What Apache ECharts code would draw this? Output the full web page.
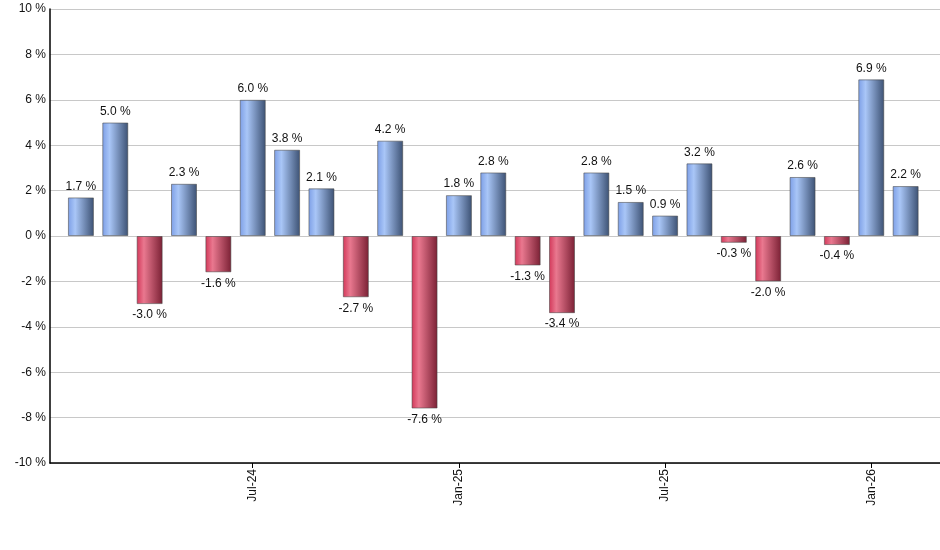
<!DOCTYPE html>
<html>
<head>
<meta charset="utf-8">
<script src="https://cdn.jsdelivr.net/npm/echarts@6/dist/echarts.min.js"></script>
<style>
  html, body { margin: 0; padding: 0; background: #fff; }
  #chart { width: 940px; height: 550px; }
</style>
</head>
<body>
<div id="chart"></div>
<script>
// ── Data ─────────────────────────────────────────────────────
const months = [
  'Feb-24', 'Mar-24', 'Apr-24', 'May-24', 'Jun-24', 'Jul-24', 'Aug-24', 'Sep-24',
  'Oct-24', 'Nov-24', 'Dec-24', 'Jan-25', 'Feb-25', 'Mar-25', 'Apr-25', 'May-25',
  'Jun-25', 'Jul-25', 'Aug-25', 'Sep-25', 'Oct-25', 'Nov-25', 'Dec-25', 'Jan-26', 'Feb-26',
];
const returns = [
  1.7, 5.0, -3.0, 2.3, -1.6, 6.0, 3.8, 2.1, -2.7, 4.2, -7.6, 1.8, 2.8,
  -1.3, -3.4, 2.8, 1.5, 0.9, 3.2, -0.3, -2.0, 2.6, -0.4, 6.9, 2.2,
];
const shownMonths = ['Jul-24', 'Jan-25', 'Jul-25', 'Jan-26'];
const yTicks = { min: -10, max: 10, step: 2 };

// ── Styles ───────────────────────────────────────────────────
function barGradient(up) {
  const stops = up
    ? ['#7c9ee6', '#a9c6f7', '#3c5173']
    : ['#d23658', '#e9788f', '#7a2034'];
  return new echarts.graphic.LinearGradient(0, 0, 1, 0, [
    { offset: 0,    color: stops[0] },
    { offset: 0.28, color: stops[1] },
    { offset: 1,    color: stops[2] },
  ]);
}

const chart = echarts.init(document.getElementById('chart'), null, { renderer: 'canvas' });

const barData = returns.map((v, i) => ({
  value: [i, v],
  itemStyle: { color: barGradient(v >= 0) },
  label: { position: v >= 0 ? 'top' : 'bottom' },
}));

const tickIdx = shownMonths.map(m => months.indexOf(m));

chart.setOption({
  animation: false,
  backgroundColor: '#fff',
  textStyle: { fontFamily: 'Liberation Sans, Arial, sans-serif' },
  grid: { left: 50, right: 0, top: 9, bottom: 87 },
  xAxis: {
    type: 'value',
    min: -0.9,
    max: 25,
    splitLine: { show: false },
    axisLine: { onZero: false, lineStyle: { color: '#000', width: 1.5 } },
    axisTick: {
      show: true, length: 5, lineStyle: { color: '#000' },
      customValues: tickIdx,
    },
    axisLabel: {
      rotate: 90, color: '#111', fontSize: 12, margin: 6,
      customValues: tickIdx,
      formatter: v => months[Math.round(v)] || '',
    },
  },
  yAxis: {
    type: 'value',
    min: yTicks.min,
    max: yTicks.max,
    interval: yTicks.step,
    axisLine: { show: true, onZero: false, lineStyle: { color: '#000', width: 1.5 } },
    axisTick: { show: false },
    axisLabel: { color: '#111', fontSize: 12, margin: 4, formatter: '{value} %' },
    splitLine: { lineStyle: { color: '#c8c8c8', width: 1 } },
  },
  series: [{
    type: 'bar',
    barWidth: 26,
    data: barData,
    itemStyle: { borderColor: 'rgba(70,70,70,0.55)', borderWidth: 1 },
    label: {
      show: true, color: '#111', fontSize: 12, distance: 5,
      formatter: p => p.value[1].toFixed(1) + ' %',
    },
  }],
});
</script>
</body>
</html>
